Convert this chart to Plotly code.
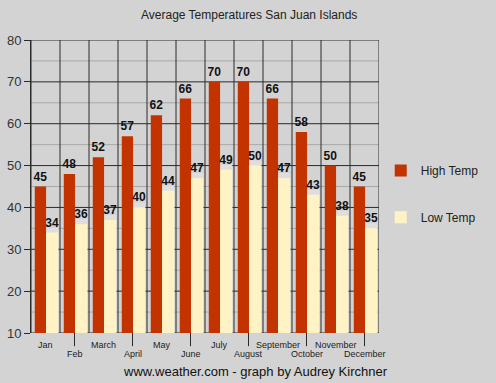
import plotly.graph_objects as go

months = ["Jan", "Feb", "March", "April", "May", "June", "July", "August",
          "September", "October", "November", "December"]
high_temp = [45, 48, 52, 57, 62, 66, 70, 70, 66, 58, 50, 45]
low_temp = [34, 36, 37, 40, 44, 47, 49, 50, 47, 43, 38, 35]
y_ticks = [10, 20, 30, 40, 50, 60, 70, 80]

BG = "#d3d3d3"
HIGH = "#c23300"
LOW = "#fff3c6"
FONT = "Liberation Sans, Arial, sans-serif"

idx = list(range(len(months)))

fig = go.Figure()

# shadow behind low bars
fig.add_trace(go.Bar(
    x=idx, y=[v + 1.2 - 10 for v in low_temp], base=10,
    offset=0.02, width=0.42, marker=dict(color="#dedede", line=dict(width=0)),
    showlegend=False, hoverinfo="skip"))

fig.add_trace(go.Bar(
    x=idx, y=[v - 10 for v in high_temp], base=10, name="High Temp",
    offset=-0.37, width=0.39, marker=dict(color=HIGH, line=dict(width=0)),
    text=[str(v) for v in high_temp], textposition="outside", cliponaxis=False,
    constraintext="none",
    textfont=dict(family=FONT, size=12, color="#111", weight="bold"), legend="legend"))

fig.add_trace(go.Bar(
    x=idx, y=[v - 10 for v in low_temp], base=10, name="Low Temp",
    offset=0.02, width=0.42, marker=dict(color=LOW, line=dict(width=0)),
    text=[str(v) for v in low_temp], textposition="outside", cliponaxis=False,
    constraintext="none",
    textfont=dict(family=FONT, size=12, color="#111", weight="bold"), legend="legend2"))

shapes = []
# minor horizontal gridlines
for v in y_ticks[:-1]:
    shapes.append(dict(type="line", xref="paper", yref="y", x0=0, x1=1,
                       y0=v + 5, y1=v + 5, line=dict(color="#a8a8a8", width=1),
                       layer="below"))
# major horizontal gridlines
for v in y_ticks:
    shapes.append(dict(type="line", xref="paper", yref="y", x0=0, x1=1,
                       y0=v, y1=v, line=dict(color="#2a2a2a", width=1),
                       layer="below"))
# vertical category boundaries
for i in range(len(months) + 1):
    shapes.append(dict(type="line", xref="x", yref="paper", x0=i - 0.5, x1=i - 0.5,
                       y0=0, y1=1, line=dict(color="#2a2a2a", width=1),
                       layer="below"))
# long ticks for lower-row labels
for i in idx:
    if i % 2 == 1:
        shapes.append(dict(type="line", xref="x", yref="paper", x0=i, x1=i,
                           y0=0, y1=-0.045, line=dict(color="#2a2a2a", width=1)))

annotations = []
for i, m in enumerate(months):
    annotations.append(dict(
        x=i, y=0, xref="x", yref="paper", text=m, showarrow=False,
        yanchor="top", yshift=-5 if i % 2 == 0 else -14,
        font=dict(family=FONT, size=9, color="#222")))

annotations.append(dict(
    x=0.625, y=1, xref="paper", yref="paper", xanchor="center", yanchor="bottom",
    yshift=16, text="Average Temperatures San Juan Islands", showarrow=False,
    font=dict(family=FONT, size=12, color="#222")))
annotations.append(dict(
    x=0.645, y=0, xref="paper", yref="paper", xanchor="center", yanchor="top",
    yshift=-29, text="www.weather.com - graph by Audrey Kirchner", showarrow=False,
    font=dict(family=FONT, size=13, color="#111")))

fig.update_layout(
    width=496, height=383,
    margin=dict(l=31, r=107, t=40, b=50),
    paper_bgcolor=BG, plot_bgcolor=BG,
    barmode="overlay",
    font=dict(family=FONT, color="#222"),
    shapes=shapes, annotations=annotations,
    xaxis=dict(range=[-0.5, len(months) - 0.5], showgrid=False, zeroline=False,
               showticklabels=False, ticks="", showline=False, fixedrange=True,
               automargin=False),
    yaxis=dict(range=[10, 80], tickvals=y_ticks, showgrid=False, zeroline=False,
               ticks="outside", ticklen=6, tickcolor="#2a2a2a", showline=True,
               linecolor="#2a2a2a", tickfont=dict(family=FONT, size=13, color="#333"),
               fixedrange=True, automargin=False),
    legend=dict(x=1.005, y=0.555, xanchor="left", yanchor="middle",
                bgcolor="rgba(0,0,0,0)", font=dict(family=FONT, size=12, color="#222")),
    legend2=dict(x=1.005, y=0.395, xanchor="left", yanchor="middle",
                 bgcolor="rgba(0,0,0,0)", font=dict(family=FONT, size=12, color="#222")),
)

fig.write_html(
    "out.html",
    config={"displayModeBar": False, "responsive": False},
    post_script="document.body.style.margin='0';document.body.style.overflow='hidden';",
)
